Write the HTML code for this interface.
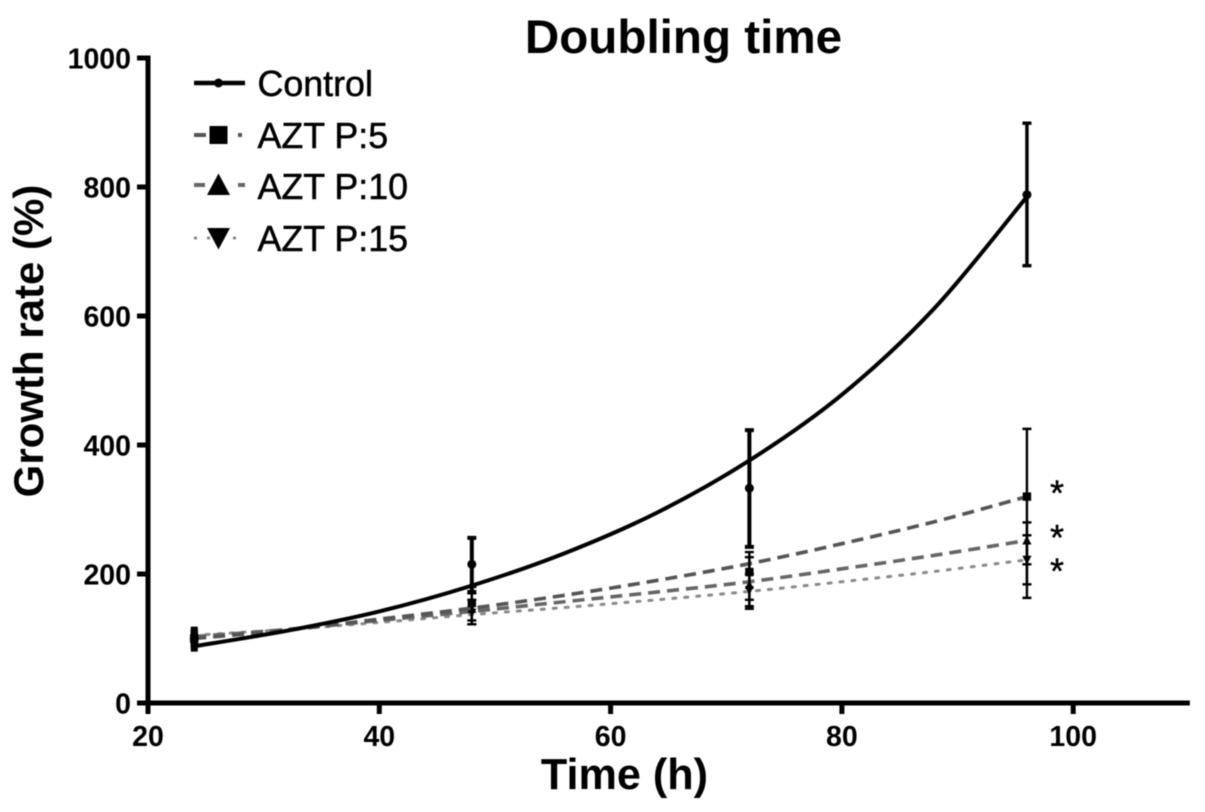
<!DOCTYPE html>
<html lang="en">
<head>
<meta charset="utf-8">
<title>Doubling time</title>
<style>
html,body{margin:0;padding:0;background:#fff;width:1205px;height:812px;overflow:hidden}
svg{display:block;filter:blur(0.6px)}
text{font-family:"Liberation Sans",Arial,sans-serif;fill:#000}
</style>
</head>
<body>
<svg id="chart" xmlns="http://www.w3.org/2000/svg" width="1205" height="812" viewBox="0 0 1205 812">
  <rect width="1205" height="812" fill="#fff"/>
  <text x="683.5" y="53" font-size="47.6" font-weight="700" text-anchor="middle">Doubling time</text>
  <text x="624.5" y="789" font-size="43.2" font-weight="700" text-anchor="middle">Time (h)</text>
  <text transform="translate(43,341) rotate(-90)" font-size="42" font-weight="700" text-anchor="middle">Growth rate (%)</text>
</svg>
<script>
const xTicks = [20, 40, 60, 80, 100];
const yTicks = [0, 200, 400, 600, 800, 1000];
const xDomainMax = 110;
const seriesNames = ['Control', 'AZT P:5', 'AZT P:10', 'AZT P:15'];
const fitTimes = [24, 32, 40, 48, 56, 64, 72, 80, 88, 96];
const fitControl = [88, 112, 142, 182, 232, 295, 376, 478, 612, 785];
const fitAzt5 = [100, 113, 130, 147, 167, 190, 216, 247, 281, 320];
const fitAzt10 = [103, 114, 128, 142, 157, 172, 188, 208, 229, 252];
const fitAzt15 = [105, 114, 125, 137, 148, 160, 173, 188, 204, 222];
const pointTimes = [24, 48, 72, 96];
const meanControl = [100, 215, 333, 788];
const lowControl = [85, 172, 242, 678];
const highControl = [113, 256, 423, 899];
const meanAzt5 = [100, 155, 203, 320];
const lowAzt5 = [90, 128, 146, 215];
const highAzt5 = [110, 180, 234, 425];
const meanAzt10 = [100, 146, 183, 252];
const lowAzt10 = [92, 122, 160, 163];
const highAzt10 = [108, 170, 226, 280];
const meanAzt15 = [100, 140, 175, 222];
const lowAzt15 = [94, 122, 150, 184];
const highAzt15 = [106, 160, 200, 260];
const significanceLevels = [343, 274, 222];
const significanceTime = 98.6;

const svg = document.getElementById('chart');
const NS = 'http://www.w3.org/2000/svg';
const xPos = function (t) { return 148 + (t - 20) * 11.565; };
const yPos = function (v) { return 703 - v * 0.645; };

function make(tag, attrs, parent) {
  const el = document.createElementNS(NS, tag);
  for (const k in attrs) el.setAttribute(k, attrs[k]);
  (parent || svg).appendChild(el);
  return el;
}

function markerShape(kind, cx, cy, r, parent) {
  if (kind === 0) return make('circle', { cx: cx, cy: cy, r: r, fill: '#000' }, parent);
  if (kind === 1) return make('rect', { x: cx - r, y: cy - r, width: 2 * r, height: 2 * r, fill: '#000' }, parent);
  if (kind === 2) return make('polygon', { points: (cx - r * 1.15) + ',' + (cy + r) + ' ' + (cx + r * 1.15) + ',' + (cy + r) + ' ' + cx + ',' + (cy - r * 1.15), fill: '#000' }, parent);
  return make('polygon', { points: (cx - r * 1.15) + ',' + (cy - r) + ' ' + (cx + r * 1.15) + ',' + (cy - r) + ' ' + cx + ',' + (cy + r * 1.15), fill: '#000' }, parent);
}

/* axes */
const xAxisLine = make('line', { x1: xPos(20) - 11, x2: xPos(xDomainMax) + 1, y1: yPos(0), y2: yPos(0), stroke: '#000', 'stroke-width': 5 });


const yAxisLine = make('line', { x1: xPos(20), x2: xPos(20), y1: yPos(1000) - 2.5, y2: yPos(0) + 11, stroke: '#000', 'stroke-width': 5 });



xTicks.forEach(function (t) {
  const tick = make('line', { x1: xPos(t), x2: xPos(t), y1: yPos(0), y2: yPos(0) + 11, stroke: '#000', 'stroke-width': 5 });
  
  
  const label = make('text', { x: xPos(t), y: 746, 'font-size': 28.5, 'font-weight': 700, 'text-anchor': 'middle' });
  label.textContent = String(t);
  
  
});

yTicks.forEach(function (v) {
  const tick = make('line', { x1: xPos(20) - 11, x2: xPos(20), y1: yPos(v), y2: yPos(v), stroke: '#000', 'stroke-width': 5 });
  
  
  const label = make('text', { x: 131, y: yPos(v) + 10.5, 'font-size': 28.5, 'font-weight': 700, 'text-anchor': 'end' });
  label.textContent = String(v);
  
  
});

/* series */
const fits = [fitControl, fitAzt5, fitAzt10, fitAzt15];
const means = [meanControl, meanAzt5, meanAzt10, meanAzt15];
const lows = [lowControl, lowAzt5, lowAzt10, lowAzt15];
const highs = [highControl, highAzt5, highAzt10, highAzt15];
const strokes = ['#000', '#555', '#666', '#8a8a8a'];
const widths = [4, 3.6, 3.6, 3];
const dashes = ['none', '12 7', '12 7', '3 9'];
const markerSizes = [4.5, 4.2, 4, 4];
const slugs = ['control', 'azt-p5', 'azt-p10', 'azt-p15'];

function smoothPath(xs, ys) {
  let d = 'M' + xs[0] + ' ' + ys[0];
  for (let i = 0; i < xs.length - 1; i++) {
    const p0x = xs[Math.max(i - 1, 0)], p0y = ys[Math.max(i - 1, 0)];
    const p3x = xs[Math.min(i + 2, xs.length - 1)], p3y = ys[Math.min(i + 2, xs.length - 1)];
    d += ' C' + (xs[i] + (xs[i + 1] - p0x) / 6) + ' ' + (ys[i] + (ys[i + 1] - p0y) / 6) + ' ' +
      (xs[i + 1] - (p3x - xs[i]) / 6) + ' ' + (ys[i + 1] - (p3y - ys[i]) / 6) + ' ' + xs[i + 1] + ' ' + ys[i + 1];
  }
  return d;
}

[3, 2, 1, 0].forEach(function (s) {
  const group = make('g', {});
  
  

  const fitLine = make('path', {
    d: smoothPath(fitTimes.map(xPos), fits[s].map(yPos)),
    fill: 'none', stroke: strokes[s], 'stroke-width': widths[s],
    'stroke-dasharray': dashes[s], 'stroke-linecap': s === 3 ? 'round' : 'butt'
  }, group);
  
  

  pointTimes.forEach(function (t, i) {
    const cx = xPos(t);
    const first = i === 0;
    const capHalf = first ? 3.5 : 4.5;
    const barWidth = first ? 7 : (s === 0 ? (i === 3 ? 3.4 : 4) : 2.4);
    const errorBar = make('path', {
      d: 'M' + cx + ' ' + yPos(lows[s][i]) + ' V' + yPos(highs[s][i]) +
         ' M' + (cx - capHalf) + ' ' + yPos(lows[s][i]) + ' H' + (cx + capHalf) +
         ' M' + (cx - capHalf) + ' ' + yPos(highs[s][i]) + ' H' + (cx + capHalf),
      fill: 'none', stroke: '#000', 'stroke-width': barWidth
    }, group);
    
    

    const marker = markerShape(s, cx, yPos(means[s][i]), markerSizes[s], group);
    
    
  });
});

/* significance asterisks */
significanceLevels.forEach(function (v, i) {
  const star = make('text', { x: xPos(significanceTime), y: yPos(v) + 23.5, 'font-size': 36, 'text-anchor': 'middle', stroke: '#000', 'stroke-width': 0.4 });
  star.textContent = '*';
  
  
});

/* legend */
const legend = make('g', {});


const legendRows = [83, 135, 186, 238];
const legendDash = ['none', '12 32 4 10', '11 33 8 10', '3 10'];
const legendMarker = [4.5, 9, 10, 10];
const legendMarkerLift = [0, 0, 1, 0];
seriesNames.forEach(function (name, s) {
  const y = legendRows[s];
  const row = make('g', {}, legend);
  
  

  const swatch = make('line', {
    x1: 194, x2: 245, y1: y - legendMarkerLift[s], y2: y - legendMarkerLift[s], stroke: s === 0 ? '#000' : strokes[s],
    'stroke-width': s === 0 ? 4.5 : (s === 3 ? 3 : 4), 'stroke-dasharray': legendDash[s]
  }, row);
  
  

  const mark = markerShape(s, 218.5, y - legendMarkerLift[s], legendMarker[s], row);
  
  

  const label = make('text', { x: 257.5, y: y + 13, 'font-size': 35.8, stroke: '#000', 'stroke-width': 0.5 }, row);
  label.textContent = name;
  
  
});
</script>
</body>
</html>
